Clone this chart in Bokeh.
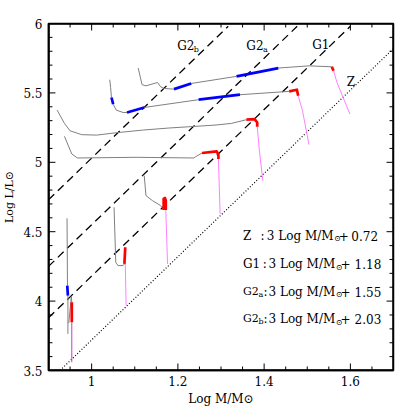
from bokeh.plotting import figure
from bokeh.models import Range1d, FixedTicker, CustomJSTickFormatter, Label, ColumnDataSource
from bokeh.embed import file_html
from bokeh.resources import INLINE

# ---------------- data ----------------
LINE_NAMES = ["Z", "G1", "G2a", "G2b"]
LINE_INTERCEPTS = [0.72, 1.18, 1.55, 2.03]
LINE_SLOPE = 3.0

X_TICKS = [1.0, 1.2, 1.4, 1.6]
Y_TICKS = [3.5, 4.0, 4.5, 5.0, 5.5, 6.0]

GREY_XS = [
    [1.108, 1.117, 1.126, 1.153, 1.160, 1.168, 1.191],
    [1.231, 1.336],
    [1.433, 1.504, 1.557],
    [1.042, 1.044, 1.046],
    [1.050, 1.057, 1.073, 1.082],
    [1.122, 1.248],
    [1.344, 1.458],
    [0.920, 0.937, 0.950, 0.977, 1.012, 1.057, 1.118, 1.179, 1.225, 1.286, 1.324, 1.359],
    [0.937, 0.954, 0.967, 1.103, 1.237, 1.241, 1.256],
    [1.122, 1.126, 1.141, 1.160, 1.167],
    [1.052, 1.056, 1.061, 1.073, 1.076],
    [0.943, 0.944],
    [0.945, 0.945],
    [0.947, 0.953, 0.954],
]
GREY_YS = [
    [5.679, 5.559, 5.551, 5.575, 5.544, 5.532, 5.527],
    [5.568, 5.619],
    [5.679, 5.695, 5.688],
    [5.595, 5.539, 5.467],
    [5.419, 5.376, 5.359, 5.359],
    [5.395, 5.451],
    [5.487, 5.511],
    [5.376, 5.280, 5.227, 5.199, 5.196, 5.213, 5.232, 5.247, 5.256, 5.268, 5.280, 5.307],
    [5.187, 5.060, 5.031, 5.036, 5.031, 5.040, 5.067],
    [4.904, 4.760, 4.724, 4.688, 4.656],
    [4.676, 4.280, 4.256, 4.256, 4.268],
    [4.596, 4.112],
    [4.040, 3.764],
    [3.841, 4.033, 3.992],
]
BLUE_XS = [[1.191, 1.231], [1.336, 1.433], [1.046, 1.050], [1.082, 1.122], [1.248, 1.344], [0.9435, 0.945]]
BLUE_YS = [[5.527, 5.568], [5.619, 5.679], [5.467, 5.419], [5.359, 5.395], [5.451, 5.487], [4.112, 4.040]]
RED_XS = [[1.557, 1.561], [1.458, 1.476, 1.479], [1.359, 1.378, 1.384, 1.384],
          [1.256, 1.290, 1.294, 1.294], [1.167, 1.167, 1.170, 1.172, 1.172],
          [1.076, 1.078], [0.954, 0.954]]
RED_YS = [[5.688, 5.659], [5.511, 5.523, 5.479], [5.307, 5.311, 5.287, 5.256],
          [5.067, 5.079, 5.055, 5.024], [4.656, 4.736, 4.743, 4.724, 4.656],
          [4.268, 4.388], [3.992, 3.848]]
PINK_XS = [[1.561, 1.569, 1.580, 1.599], [1.479, 1.489, 1.504], [1.384, 1.389, 1.397],
           [1.294, 1.298], [1.172, 1.176], [1.078, 1.080], [0.954, 0.954]]
PINK_YS = [[5.659, 5.575, 5.491, 5.347], [5.479, 5.371, 5.127], [5.256, 5.084, 4.868],
           [5.024, 4.628], [4.656, 4.268], [4.268, 3.968], [3.848, 3.560]]

# ---------------- figure ----------------
FONT = "DejaVu Serif"
XMIN, XMAX, YMIN, YMAX = 0.9, 1.7, 3.5, 6.0
W, H = 415, 415
BL, BR, BT, BB = 45, 22, 23, 45

p = figure(width=W, height=H, x_range=Range1d(XMIN, XMAX), y_range=Range1d(YMIN, YMAX),
           output_backend="svg", toolbar_location=None,
           min_border_left=BL, min_border_right=BR, min_border_top=BT, min_border_bottom=BB)
p.background_fill_color = None
p.border_fill_color = None
p.xgrid.visible = False
p.ygrid.visible = False
p.outline_line_color = "black"
p.outline_line_width = 1.5

xminor = [round(0.9 + 0.05 * i, 3) for i in range(17)]
yminor = [round(3.5 + 0.1 * i, 3) for i in range(26)]
fmt = CustomJSTickFormatter(code="return String(Math.round(tick*100)/100);")

for ax in (p.xaxis[0], p.yaxis[0]):
    ax.major_tick_in = 0
    ax.major_tick_out = 0
    ax.minor_tick_in = 0
    ax.minor_tick_out = 0
    ax.axis_line_color = "black"
    ax.axis_line_width = 1.5
    ax.major_label_text_font = FONT
    ax.major_label_text_font_size = "12px"
    ax.major_label_text_color = "black"
    ax.formatter = fmt
    ax.axis_label_text_font = FONT
    ax.axis_label_text_font_style = "normal"
    ax.axis_label_text_color = "black"
p.xaxis.ticker = FixedTicker(ticks=X_TICKS, minor_ticks=xminor)
p.yaxis.ticker = FixedTicker(ticks=Y_TICKS, minor_ticks=yminor)
p.xaxis[0].major_label_standoff = 5
p.yaxis[0].major_label_standoff = 6
p.xaxis[0].axis_label = "Log M/M\u2299"
p.xaxis[0].axis_label_text_font_size = "12px"
p.xaxis[0].axis_label_standoff = 3
p.yaxis[0].axis_label = "Log L/L\u2299"
p.yaxis[0].axis_label_text_font_size = "11px"
p.yaxis[0].axis_label_standoff = 4

# pixel -> data conversion for inward ticks drawn on all four sides
px_x = (XMAX - XMIN) / (W - BL - BR)
px_y = (YMAX - YMIN) / (H - BT - BB)
MAJ, MIN = 7, 4
eps_x, eps_y = 0.5 * px_x, 0.5 * px_y

tick_xs, tick_ys = [], []
x_minor_only = [t for t in xminor if all(abs(t - m) > 1e-6 for m in X_TICKS)]
y_minor_only = [t for t in yminor if all(abs(t - m) > 1e-6 for m in Y_TICKS)]
for ticks_, L in ((X_TICKS, MAJ), (x_minor_only, MIN)):
    for t in ticks_:
        tick_xs += [[t, t], [t, t]]
        tick_ys += [[YMIN, YMIN + L * px_y], [YMAX, YMAX - L * px_y]]
for ticks_, L in ((Y_TICKS, MAJ), (y_minor_only, MIN)):
    for t in ticks_:
        tick_ys += [[t, t], [t, t]]
        tick_xs += [[XMIN, XMIN + L * px_x], [XMAX, XMAX - L * px_x]]

# ---------------- reference lines ----------------
Y_TOP = 5.98
for name, b in zip(LINE_NAMES, LINE_INTERCEPTS):
    x0 = max(XMIN, (YMIN - b) / LINE_SLOPE)
    x1 = min(XMAX, (Y_TOP - b) / LINE_SLOPE)
    xs = [x0, x1]
    ys = [LINE_SLOPE * x + b for x in xs]
    if name == "Z":
        p.line(xs, ys, line_color="black", line_width=1.2, line_dash="1 2")
    else:
        p.line(xs, ys, line_color="black", line_width=1.3, line_dash="8 5")

# ---------------- tracks ----------------
p.multi_line(GREY_XS, GREY_YS, line_color="#808080", line_width=1.0)
pink_colors = ["#ff80ff"] * (len(PINK_XS) - 1) + ["#c040c0"]
p.multi_line(xs="xs", ys="ys", line_color="c", line_width=1.0,
             source=ColumnDataSource(dict(xs=PINK_XS, ys=PINK_YS, c=pink_colors)))
p.multi_line(BLUE_XS, BLUE_YS, line_color="#0000ff", line_width=2.7, line_join="round")
p.multi_line(RED_XS, RED_YS, line_color="#ff0000", line_width=2.7, line_join="round")

# ticks and frame box (as lines)
p.multi_line(tick_xs, tick_ys, line_color="black", line_width=1.0)
p.line([XMIN + eps_x, XMAX - eps_x, XMAX - eps_x, XMIN + eps_x, XMIN + eps_x],
       [YMIN + eps_y, YMIN + eps_y, YMAX - eps_y, YMAX - eps_y, YMIN + eps_y],
       line_color="black", line_width=1.5)

# ---------------- texts ----------------
def lab(x, y, text, size="12px", align="left"):
    p.add_layout(Label(x=x, y=y, text=text, text_font=FONT, text_font_size=size,
                       text_align=align, text_baseline="alphabetic", text_color="black"))

SUB = "8px"
SUN = "\u2299"

# line labels
lab(1.1985, 5.839, "G2"); lab(1.2366, 5.815, "b", SUB)
lab(1.3588, 5.839, "G2"); lab(1.3975, 5.815, "a", SUB)
lab(1.5115, 5.844, "G1")
lab(1.5916, 5.575, "Z")

# equations
rows_y = [4.4717, 4.2678, 4.0686, 3.8719]
colon_x = [1.3916, 1.3970, 1.3985, 1.3985]
for i, (name, b) in enumerate(zip(LINE_NAMES, LINE_INTERCEPTS)):
    y = rows_y[i]
    mend = 1.5611 if i == 0 else 1.5649
    nend = 1.6641 if i == 0 else 1.6718
    if name.startswith("G2"):
        lab(1.3511, y, "G2", "11px")
        lab(1.3868, y - 0.019, name[-1], SUB)
    else:
        lab(1.3511, y, name)
    lab(colon_x[i], y, ":")
    lab(mend, y, "3 Log M/M", align="right")
    lab(mend + 0.001, y - 0.024, SUN, SUB)
    lab(mend + 0.012, y, "+")
    lab(nend, y, f"{b:.2f}", align="right")

open("out.html", "w").write(file_html(p, INLINE))
